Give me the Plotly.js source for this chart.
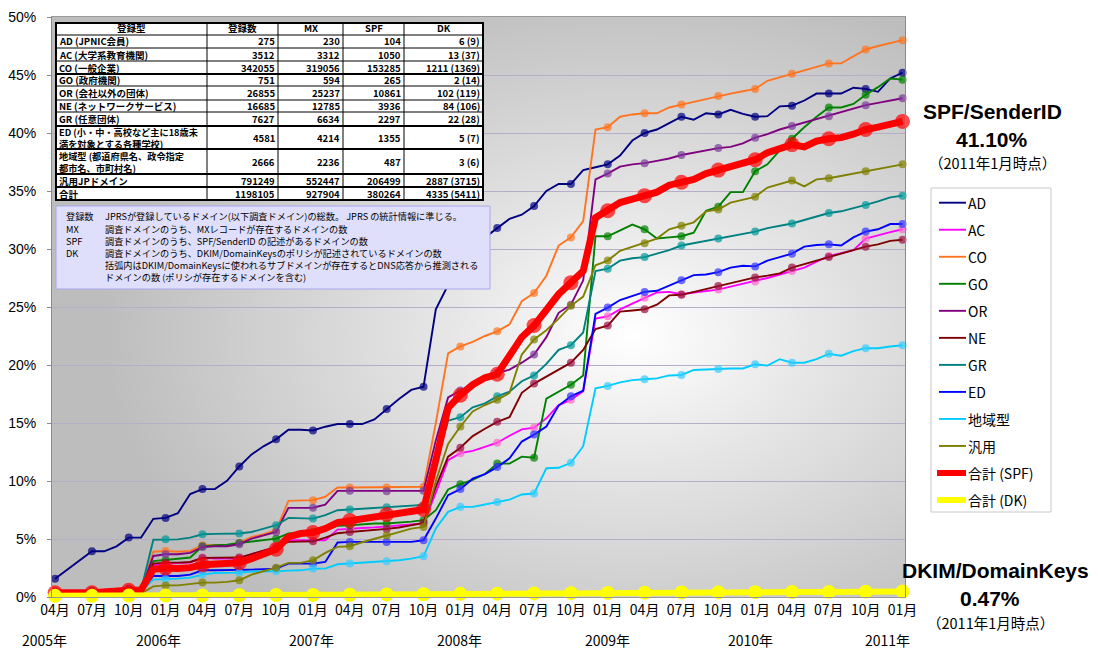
<!DOCTYPE html>
<html><head><meta charset="utf-8">
<script src="https://cdn.plot.ly/plotly-3.0.1.min.js"></script>
<style>html,body{margin:0;padding:0;background:#fff}#chart{width:1098px;height:653px}</style>
</head><body><div id="chart"></div>
<script>
// month index 0 = 2005年04月 ... 69 = 2011年01月
const quarterIndex = [0,3,6,9,12,15,18,21,24,27,30,33,36,39,42,45,48,51,54,57,60,63,66,69];
const monthTickLabels = ['04月','07月','10月','01月','04月','07月','10月','01月','04月','07月','10月','01月','04月','07月','10月','01月','04月','07月','10月','01月','04月','07月','10月','01月'];
const yearLabels = ['2005年','2006年','2007年','2008年','2009年','2010年','2011年'];
const yearIndex = [0,9,21,33,45,57,69];

const seriesNames = ['AD','AC','CO','GO','OR','NE','GR','ED','地域型','汎用','合計 (SPF)','合計 (DK)'];
const lineColors  = ['#000080','#ff00ff','#ff7420','#008000','#800080','#800000','#008080','#0000ff','#00ccff','#808000','#ff0000','#ffff00'];
const markColors  = ['#000080','#ff66cc','#ff7420','#008000','#7a3a9a','#9b1040','#009999','#3333ff','#33ccff','#808000','#ff0000','#ffff00'];

const AD = [1.58,null,null,3.94,3.94,4.37,5.12,5.12,6.74,6.82,
 7.22,8.87,9.30,9.30,10.02,11.25,12.29,13.01,13.59,14.42,
 14.42,14.36,14.68,14.91,14.91,14.91,15.31,16.21,17.07,17.85,
 18.13,24.8,26.9,28.5,29.8,31.0,31.8,32.6,32.96,33.7,
 35.0,35.6,35.6,36.8,37.05,37.3,38.05,39.35,40.0,40.3,
 40.85,41.4,41.15,41.7,41.6,42.0,41.65,41.4,41.45,42.3,
 42.35,42.8,43.4,43.4,43.4,43.9,43.8,43.55,44.7,45.2];
const AC = [0.4,null,null,0.45,null,null,0.78,0.78,2.73,2.88,
 2.93,2.96,3.4,3.31,3.31,3.31,3.7,4.0,4.32,4.89,
 4.89,4.89,4.89,5.81,5.9,5.95,6.0,6.07,6.15,6.24,
 6.33,9.0,11.8,12.4,12.6,12.95,13.3,13.9,14.45,14.6,
 15.4,16.55,17.0,17.75,24.0,24.2,24.8,25.3,25.8,26.25,
 26.3,26.1,26.25,26.4,26.5,26.75,27.0,27.2,27.5,27.8,
 28.1,28.4,28.9,29.4,29.65,29.9,30.9,31.2,31.45,31.7];
const CO = [0.4,null,null,0.4,null,null,0.6,0.6,3.9,3.97,
 3.9,3.97,4.46,4.46,4.46,4.66,5.18,5.41,5.76,8.29,
 8.29,8.35,8.64,9.44,9.44,9.44,9.44,9.44,9.44,9.44,
 9.5,15.0,21.0,21.6,22.0,22.5,22.9,23.5,25.5,26.2,
 27.7,30.3,31.0,32.4,40.3,40.5,41.4,41.6,41.7,41.7,
 42.2,42.45,42.7,42.95,43.2,43.4,43.6,43.8,44.5,44.8,
 45.1,45.4,45.7,46.0,46.0,46.6,47.2,47.5,47.75,48.0];
const GO = [0.4,null,null,0.4,null,null,0.6,0.6,3.1,3.17,
 3.3,3.4,4.37,4.46,4.5,4.66,4.8,4.9,5.03,5.47,
 5.56,5.61,5.82,6.13,6.19,6.27,6.33,6.33,6.4,6.5,
 6.62,7.48,9.27,9.73,10.1,10.6,11.5,11.5,12.1,12.0,
 17.1,17.7,18.3,19.1,31.1,31.1,31.6,32.1,31.7,30.9,
 31.0,31.1,31.4,33.3,33.65,34.9,34.9,36.7,37.3,38.5,
 39.5,40.5,41.4,42.2,42.2,42.5,43.3,43.95,44.7,44.6];
const OR = [0.4,null,null,0.4,null,null,0.6,0.6,3.54,3.68,
 3.68,3.8,4.3,4.37,4.37,4.55,5.04,5.3,5.6,7.68,
 7.7,7.7,7.97,9.15,9.15,9.15,9.15,9.12,9.12,9.12,
 9.15,13.5,17.2,17.8,18.3,18.8,19.3,19.6,20.2,20.9,
 22.4,24.5,25.2,27.3,36.0,36.5,37.1,37.3,37.4,37.6,
 37.8,38.1,38.3,38.5,38.7,38.8,39.1,39.6,39.9,40.3,
 40.6,40.85,41.2,41.45,41.8,42.1,42.4,42.6,42.8,43.0];
const NE = [0.49,null,null,0.55,null,null,0.72,0.72,2.88,2.96,
 2.96,3.02,3.37,3.37,3.37,3.4,3.7,4.0,4.32,4.75,
 4.75,4.8,5.12,5.5,5.6,5.68,5.76,5.87,5.99,6.19,
 6.39,9.5,12.1,12.87,13.87,14.5,15.1,15.5,17.6,18.4,
 19.0,19.6,20.2,21.3,23.1,23.4,24.6,24.7,24.8,25.2,
 26.0,26.05,26.3,26.55,26.8,27.05,27.3,27.55,27.7,27.9,
 28.4,28.7,29.0,29.3,29.6,29.9,30.2,30.4,30.7,30.8];
const GR = [0.4,null,null,0.4,null,null,0.6,0.6,4.94,4.97,
 4.97,5.12,5.41,5.44,5.44,5.47,5.6,5.9,6.19,6.82,
 6.82,6.76,7.05,7.48,7.54,7.6,7.66,7.74,7.8,7.88,
 7.94,11.5,15.2,15.5,16.35,16.7,17.3,17.7,18.6,19.1,
 20.1,21.3,21.7,22.8,28.1,28.3,29.0,29.2,29.3,29.6,
 29.9,30.3,30.5,30.7,30.9,31.1,31.3,31.5,31.8,32.0,
 32.2,32.5,32.8,33.1,33.25,33.5,33.8,34.1,34.45,34.6];
const ED = [0.3,null,null,0.3,null,null,0.5,0.5,1.81,1.81,
 1.81,1.93,2.3,2.3,2.3,2.3,2.36,2.4,2.45,2.88,
 2.88,2.88,3.02,4.7,4.75,4.75,4.75,4.75,4.75,4.75,
 4.89,6.76,8.78,9.3,10.2,10.6,11.2,11.95,13.4,14.0,
 14.7,16.5,17.3,17.8,24.4,24.95,25.6,25.95,26.3,26.4,
 26.85,27.3,27.75,27.8,28.0,28.4,28.55,28.5,29.0,29.3,
 29.6,30.2,30.35,30.4,30.3,31.0,31.5,31.7,32.15,32.15];
const CHIIKI = [0.3,null,null,0.3,null,null,0.5,0.5,1.5,1.53,
 1.58,1.67,1.93,2.07,2.1,2.1,2.2,2.2,2.21,2.27,
 2.3,2.45,2.45,2.82,2.88,2.97,3.02,3.08,3.17,3.31,
 3.51,5.9,7.34,7.77,7.77,7.97,8.2,8.4,8.84,8.92,
 11.1,11.14,11.57,13.0,18.0,18.2,18.5,18.7,18.77,18.85,
 19.1,19.14,19.57,19.63,19.66,19.7,19.7,20.06,19.95,20.5,
 20.2,20.2,20.5,20.96,20.8,21.2,21.45,21.45,21.6,21.7];
const HANYO = [0.2,null,null,0.2,null,null,0.3,0.3,0.92,1.0,
 1.0,1.09,1.24,1.24,1.3,1.44,1.93,2.24,2.53,2.94,
 2.94,3.17,3.8,4.32,4.37,4.72,5.04,5.3,5.6,5.9,
 6.04,10.0,13.2,14.7,16.0,16.55,17.0,17.6,20.9,22.2,
 23.0,24.0,25.1,25.9,28.6,29.0,29.85,30.2,30.5,30.9,
 31.7,32.0,32.3,33.25,33.4,34.0,34.25,34.5,35.3,35.6,
 35.9,35.4,36.0,36.1,36.3,36.5,36.7,36.9,37.1,37.3];
const TOTAL_SPF = [0.37,null,null,0.37,null,null,0.58,0.6,2.39,2.5,
 2.45,2.53,2.79,2.88,2.88,2.96,3.31,3.74,4.12,5.18,
 5.47,5.56,5.9,6.42,6.6,6.76,6.97,7.11,7.28,7.43,
 7.54,11.8,16.3,17.4,18.3,18.9,19.2,20.8,22.4,23.4,
 24.7,26.1,27.1,28.1,32.7,33.3,34.0,34.3,34.6,34.9,
 35.5,35.75,36.0,36.5,36.8,37.2,37.5,37.7,38.3,38.6,
 39.0,38.8,39.3,39.5,39.6,39.9,40.3,40.5,40.7,41.0];
// DK total, quarterly values only
const TOTAL_DK = [0.1,0.1,0.12,0.12,0.13,0.15,0.17,0.18,0.2,0.22,0.24,0.27,
 0.29,0.31,0.33,0.35,0.37,0.39,0.4,0.42,0.43,0.44,0.46,0.47];

const monthlySeries = [AD,AC,CO,GO,OR,NE,GR,ED,CHIIKI,HANYO,TOTAL_SPF];

// table
const tableHeader = ['登録型','登録数','MX','SPF','DK'];
const tableTypes = ['AD (JPNIC会員)','AC (大学系教育機関)','CO (一般企業)','GO (政府機関)','OR (会社以外の団体)','NE (ネットワークサービス)','GR (任意団体)','ED (小・中・高校など主に18歳未<br>満を対象とする各種学校)','地域型 (都道府県名、政令指定<br>都市名、市町村名)','汎用JPドメイン','合計'];
const tableReg = [275,3512,342055,751,26855,16685,7627,4581,2666,791249,1198105];
const tableMX  = [230,3312,319056,594,25237,12785,6634,4214,2236,552447,927904];
const tableSPF = [104,1050,153285,265,10861,3936,2297,1355,487,206499,380264];
const tableDK  = ['6 (9)','13 (37)','1211 (1369)','2 (14)','102 (119)','84 (106)','22 (28)','5 (7)','3 (6)','2887 (3715)','4335 (5411)'];

const noteLabels = ['登録数','MX','SPF','DK','',''];
const noteTexts = ['JPRSが登録しているドメイン(以下調査ドメイン)の総数。 JPRS の統計情報に準じる。',
 '調査ドメインのうち、MXレコードが存在するドメインの数',
 '調査ドメインのうち、SPF/SenderID の記述があるドメインの数',
 '調査ドメインのうち、DKIM/DomainKeysのポリシが記述されているドメインの数',
 '括弧内はDKIM/DomainKeysに使われるサブドメインが存在するとDNS応答から推測される',
 'ドメインの数 (ポリシが存在するドメインを含む)'];

const spfLabel = ['SPF/SenderID','41.10%','（2011年1月時点）'];
const dkLabel  = ['DKIM/DomainKeys','0.47%','（2011年1月時点）'];

// ---------- layout helpers ----------
const L=52, T=17, W=853, H=580;
const px = v => (v - L) / W;
const py = v => (T + H - v) / H;
const JP = 'Noto Sans CJK JP, sans-serif';
const AR = 'Liberation Sans, Arial, sans-serif';

const traces = monthlySeries.map((vals, k) => {
  const thick = k === 10;
  return {
    type:'scatter', mode:'lines+markers', name: seriesNames[k],
    x0:0, dx:1, y: vals, connectgaps:true, cliponaxis:false,
    line:{color: lineColors[k], width: thick ? 7 : 1.9},
    marker:{color: markColors[k], size: vals.map((v,i)=> (v!==null && i%3===0) ? (thick ? 15 : 8) : 0), line:{width:0}},
    hoverinfo:'x+y+name'
  };
});
traces.push({type:'scatter', mode:'lines+markers', name: seriesNames[11], x: quarterIndex, y: TOTAL_DK,
  cliponaxis:false, line:{color: lineColors[11], width:6}, marker:{color: markColors[11], size:14}});

const shapes = [];
const annotations = [];
const A = (text, x, y, xanchor, font, extra) => annotations.push(Object.assign({text, x:px(x), y:py(y), xref:'paper', yref:'paper',
  showarrow:false, xanchor, yanchor:'middle', borderpad:0, font}, extra||{}));

// notes box
shapes.push({type:'rect', xref:'paper', yref:'paper', x0:px(56), x1:px(490), y0:py(206), y1:py(289),
  fillcolor:'#dfdffb', line:{color:'#a8a8ec', width:1}, layer:'above'});
const noteY = [216, 229, 241, 253, 265, 277];
const noteFont = {family:JP, size:9.2, color:'#000'};
noteTexts.forEach((t,i)=>{
  if (noteLabels[i]) A(noteLabels[i], 65, noteY[i], 'left', noteFont);
  A(t, 104, noteY[i], 'left', noteFont);
});

// table
const colB = [56, 207, 278, 343, 404, 483];
const rowB = [23, 35, 48, 61, 74, 86, 100, 112, 126, 149, 174, 187, 200];
const thickRows = [74, 126, 149, 174, 187];
shapes.push({type:'rect', xref:'paper', yref:'paper', x0:px(colB[0]), x1:px(colB[5]), y0:py(rowB[0]), y1:py(rowB[12]),
  fillcolor:'#ffffff', line:{color:'#000', width:2}, layer:'above'});
rowB.slice(1,-1).forEach(r=>{
  shapes.push({type:'line', xref:'paper', yref:'paper', x0:px(colB[0]), x1:px(colB[5]), y0:py(r), y1:py(r),
    line:{color:'#000', width: thickRows.includes(r) ? 2 : 1}, layer:'above'});
});
colB.slice(1,-1).forEach(c=>{
  shapes.push({type:'line', xref:'paper', yref:'paper', x0:px(c), x1:px(c), y0:py(rowB[0]), y1:py(rowB[12]),
    line:{color:'#000', width:1}, layer:'above'});
});
const cellFont = {family:JP, size:9.5, color:'#000'};
const cellFont2 = {family:JP, size:9.2, color:'#000'};
tableHeader.forEach((h,j)=> A('<b>'+h+'</b>', (colB[j]+colB[j+1])/2, (rowB[0]+rowB[1])/2 - 0.5, 'center', cellFont));
const numCols = [tableReg, tableMX, tableSPF, tableDK];
tableTypes.forEach((t,i)=>{
  const yc = (rowB[i+1]+rowB[i+2])/2;
  const multi = t.includes('<br>');
  A('<b>'+t+'</b>', colB[0]+2, yc, 'left', multi ? cellFont2 : cellFont, {align:'left'});
  numCols.forEach((col,j)=> A('<b>'+col[i]+'</b>', colB[j+2]-2, yc, 'right', cellFont));
});

// legend (manual)
shapes.push({type:'rect', xref:'paper', yref:'paper', x0:px(931), x1:px(1051), y0:py(188), y1:py(512),
  fillcolor:'#ffffff', line:{color:'#c8c8c8', width:1}, layer:'above'});
seriesNames.forEach((n,k)=>{
  const yy = 202.7 + 27.03*k;
  const thick = k >= 10;
  shapes.push({type:'line', xref:'paper', yref:'paper', x0:px(thick?937:939), x1:px(966), y0:py(yy), y1:py(yy),
    line:{color: lineColors[k], width: thick ? 6 : 1.9}, layer:'above'});
  A(n, 967, yy, 'left', {family:JP, size:14, color:'#000'});
});

// right labels
const big = {family:AR, size:21, color:'#000'}, small = {family:JP, size:14.5, color:'#000'};
A('<b>'+spfLabel[0]+'</b>', 992, 111, 'center', big);
A('<b>'+spfLabel[1]+'</b>', 992, 139, 'center', big);
A(spfLabel[2], 992, 162, 'center', small);
A('<b>'+dkLabel[0]+'</b>', 995, 570, 'center', big);
A('<b>'+dkLabel[1]+'</b>', 990, 598, 'center', big);
A(dkLabel[2], 990, 622, 'center', small);

// year labels
const yearShift = [-11,-7,-2,-1,0,-5,-15];
yearLabels.forEach((y,i)=>{
  annotations.push({text:y, x: yearIndex[i], xref:'x', y: py(640), yref:'paper', xshift: yearShift[i], showarrow:false,
    xanchor:'center', yanchor:'middle', font:{family:JP, size:14, color:'#000'}});
});

const bgSvg = 'data:image/svg+xml;charset=utf-8,' + encodeURIComponent(
  '<svg xmlns="http://www.w3.org/2000/svg" width="853" height="580" viewBox="0 0 853 580" preserveAspectRatio="none">' +
  '<defs><radialGradient id="g" cx="0.68" cy="0.55" r="0.62"><stop offset="0" stop-color="#ffffff"/>' +
  '<stop offset="0.35" stop-color="#e6e6e6"/><stop offset="1" stop-color="#bdbdbd"/></radialGradient></defs>' +
  '<rect width="853" height="580" fill="url(#g)"/></svg>');

const layout = {
  width:1098, height:653, margin:{l:L, r:1098-L-W, t:T, b:653-T-H},
  paper_bgcolor:'#ffffff', plot_bgcolor:'#c6c6c6', showlegend:false,
  font:{family:AR, color:'#000'},
  xaxis:{range:[-0.25,69.2], tickmode:'array', tickvals:quarterIndex, ticktext:monthTickLabels,
    showgrid:false, zeroline:false, showline:true, linecolor:'#9a9a9a', mirror:true, ticks:'',
    tickfont:{family:JP, size:14, color:'#000'}},
  yaxis:{range:[0,50], tickmode:'linear', tick0:0, dtick:5, ticksuffix:'%', showgrid:true, gridcolor:'#b6aec8', gridwidth:1,
    zeroline:false, showline:true, linecolor:'#8a8a8a', mirror:true, ticks:'outside', ticklen:4, tickcolor:'#8a8a8a',
    ticklabelstandoff:8, tickfont:{family:AR, size:14, color:'#000'}},
  images:[{source:bgSvg, xref:'x', yref:'y', x:-0.25, y:50, sizex:69.45, sizey:50, sizing:'stretch',
    xanchor:'left', yanchor:'top', layer:'below'}],
  shapes, annotations
};
Plotly.newPlot('chart', traces, layout, {displayModeBar:false, staticPlot:true});
</script></body></html>
